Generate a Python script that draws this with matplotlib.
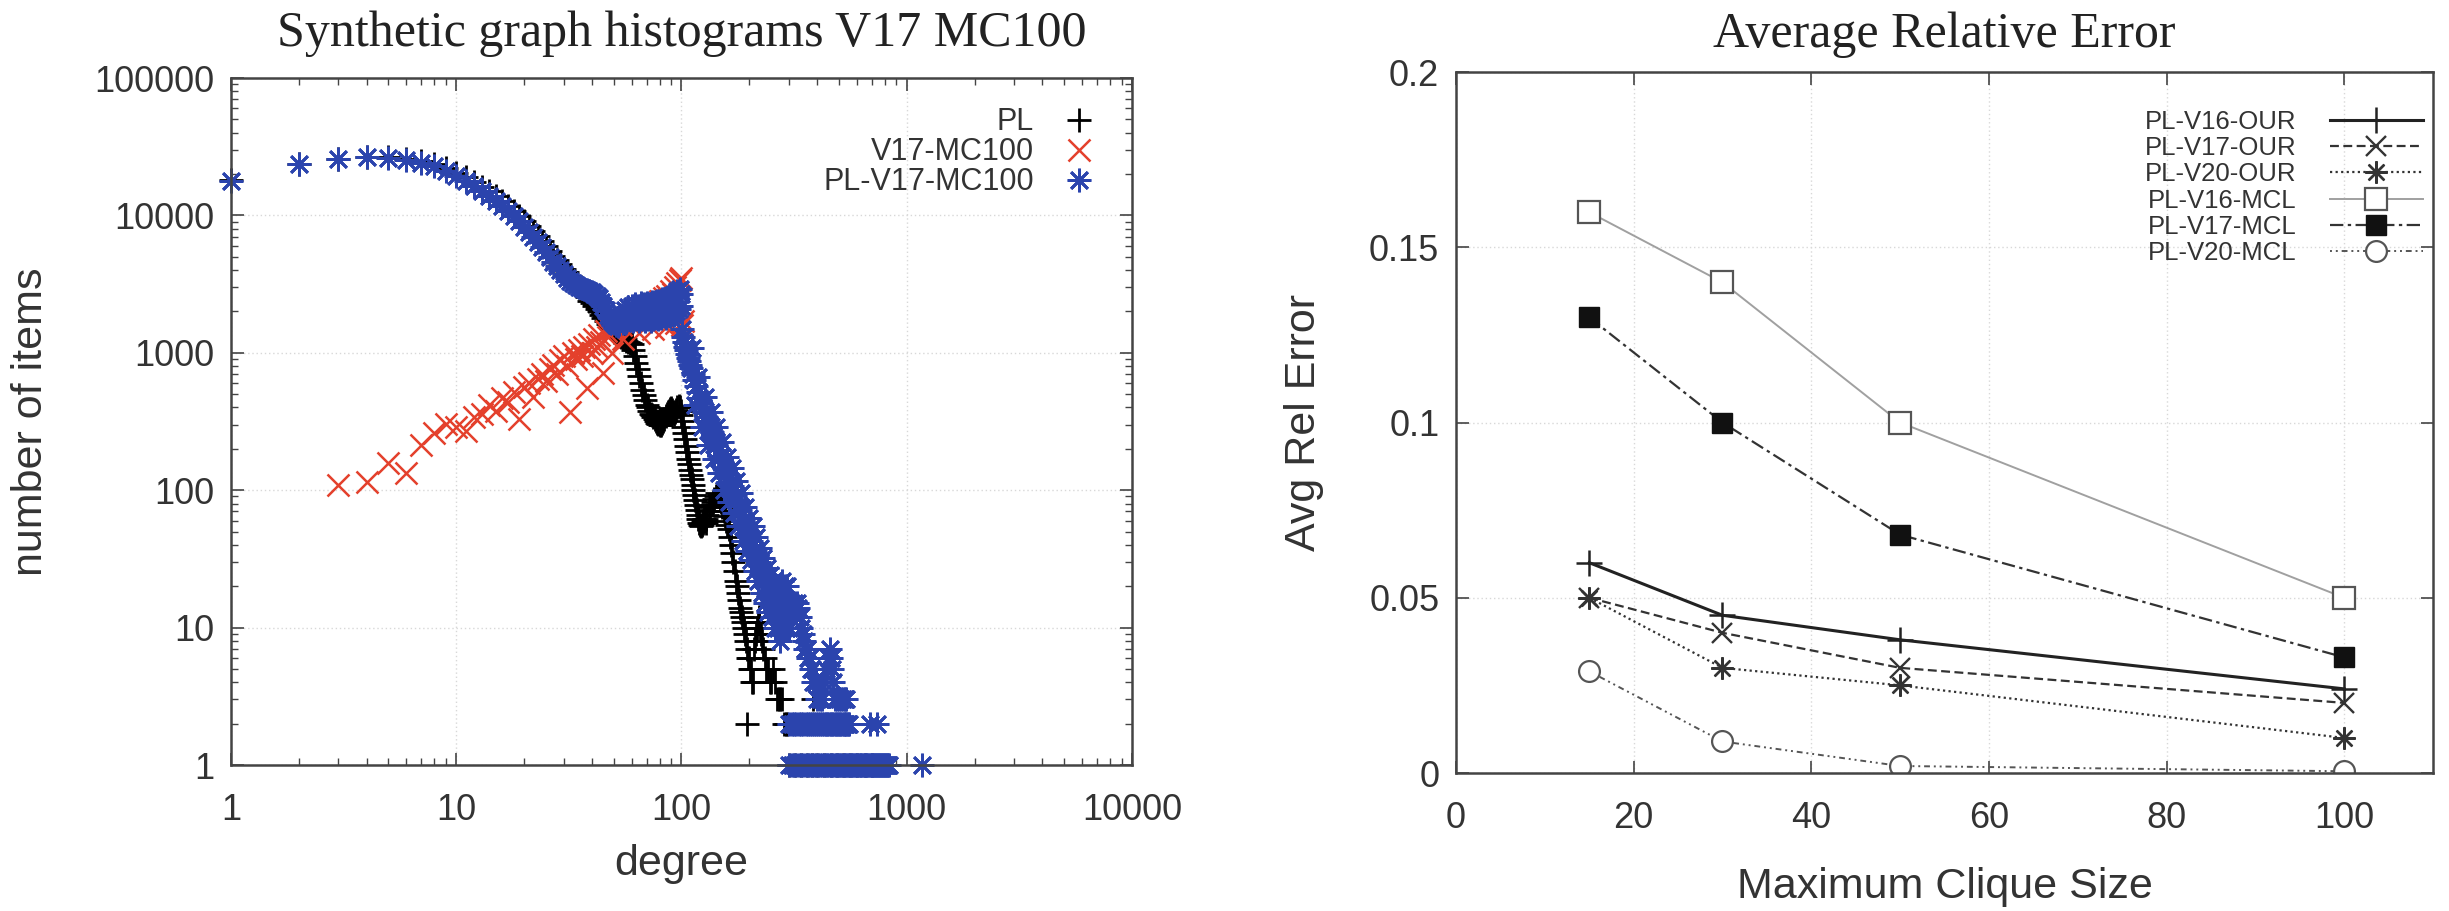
import matplotlib
matplotlib.use("Agg")
import matplotlib.pyplot as plt
from matplotlib import ticker

plt.rcParams['font.family'] = ['Liberation Sans', 'DejaVu Sans']
TXT = '#333333'
EDGE = '#444444'

# ---------------- left panel: degree histograms ----------------
# PL (black +)
pl_deg = list(range(1, 131)) + list(range(132, 231, 2)) + \
    [234, 238, 242, 246, 250, 255, 260, 265, 270, 275, 280, 285, 290, 295, 195, 385]
pl_cnt = [18000, 23500, 25800, 26800, 26500, 25800, 24800, 23800, 22300, 20500,
          19000, 17600, 16200, 15000, 13800, 12700, 11700, 10800, 9900, 9100,
          8400, 7700, 7100, 6500, 6000, 5500, 5100, 4700, 4400, 4100,
          3850, 3600, 3400, 3200, 3000, 2850, 2700, 2550, 2400, 2300,
          2200, 2100, 2000, 1900, 1800, 1700, 1620, 1550, 1480, 1420,
          1380, 1350, 1320, 1300, 1280, 1250, 1220, 1200, 1180, 1150,
          1050, 950, 850, 760, 680, 600, 540, 490, 450, 420,
          400, 380, 360, 350, 340, 330, 320, 310, 305, 300,
          300, 310, 320, 330, 345, 360, 370, 380, 390, 395,
          385, 370, 360, 370, 385, 400, 410, 400, 380, 350,
          320, 290, 260, 235, 210, 190, 170, 155, 140, 130,
          120, 110, 100, 92, 85, 78, 72, 66, 62, 58,
          56, 55, 56, 58, 60, 62, 60, 58, 62, 66,
          70, 75, 78, 82, 86, 90, 95, 92, 88, 82,
          76, 70, 65, 60, 56, 52, 46, 40, 35, 30,
          26, 22, 20, 18, 16, 14, 13, 12, 11, 10,
          9, 8, 7, 6, 6, 5, 5, 4, 4, 7,
          8, 9, 10, 11, 12, 11, 10, 9, 8, 7,
          6, 5, 5, 4, 4, 5, 4, 3, 3, 3, 3, 2, 2, 2, 2, 3]
pl_one_deg = [300, 320, 340, 360, 380, 400, 430, 460, 490, 520, 560, 600, 650, 700]

# V17-MC100 (red x)
v17_deg = list(range(3, 51)) + list(range(52, 101, 2)) + [101, 102, 55, 65, 75, 85, 95]
v17_cnt = [110, 115, 158, 134, 215, 260, 305, 290, 270, 340,
           360, 420, 380, 470, 440, 520, 330, 560, 600, 480,
           650, 700, 620, 760, 820, 700, 880, 950, 800, 370,
           1000, 900, 1050, 950, 1100, 550, 1150, 1000, 1250, 1100,
           1350, 1200, 710, 1450, 1300, 1500, 1000, 1550,
           1650, 1600, 1750, 1700, 1850, 1800, 1950, 1900, 2050, 2100,
           1900, 2200, 2150, 2300, 2400, 2200, 2500, 2600, 2450, 2800,
           2700, 3000, 3200, 3400, 3500,
           1600, 1700, 1250, 1400, 1500, 1550, 1650]

# PL-V17-MC100 (blue asterisk)
mix_deg = list(range(1, 111)) + list(range(112, 141, 2)) + list(range(143, 201, 3)) + \
    list(range(204, 241, 4)) + list(range(245, 401, 5)) + \
    [410, 420, 430, 440, 450, 455, 460, 465, 470, 480, 490, 500, 510, 520, 530, 540]
mix_cnt = [17700, 23500, 25800, 26500, 26200, 25200, 24000, 22800, 21200, 19300,
           17800, 16400, 15000, 13800, 12700, 11700, 10800, 9900, 9100, 8300,
           7600, 7000, 6400, 5900, 5400, 5000, 4600, 4300, 4000, 3750,
           3500, 3350, 3200, 3100, 3000, 2950, 2900, 2850, 2800, 2750,
           2700, 2600, 2500, 2350, 2200, 2050, 1900, 1800, 1700, 1650,
           1600, 1580, 1620, 1900, 1650, 2050, 1700, 2150, 1750, 2200,
           1700, 2250, 1750, 2200, 1700, 2300, 1750, 2250, 1700, 2300,
           1750, 2250, 1700, 2350, 1750, 2300, 1800, 2400, 1750, 2350,
           1800, 2450, 1850, 2400, 1800, 2500, 1900, 2550, 1850, 2600,
           1950, 2650, 1900, 2700, 2000, 2800, 2100, 2900, 2200, 2700,
           1500, 1300, 1200, 1100, 1050, 980, 920, 870, 820, 780,
           700, 630, 570, 520, 470, 430, 400, 370, 340, 320, 300, 280, 265, 250, 235,
           215, 195, 175, 160, 145, 132, 122, 115, 108, 100,
           92, 85, 78, 72, 66, 60, 56, 52, 49, 46,
           43, 40, 36, 33, 30, 28, 26, 24, 22, 20,
           18, 17, 16, 15, 14, 13, 12, 16, 15, 15, 14, 15, 15, 14, 15, 14, 15, 14,
           12, 10, 9, 8, 7, 7, 6, 6, 5, 5, 4, 4, 4, 3,
           3, 3, 4, 5, 6, 7, 6, 5, 4, 3, 3, 3, 3, 3, 3, 3]
# scatter of the blue tail around its trend (odd degrees)
mix_spread_deg = list(range(111, 300, 4))
mix_spread_cnt = [1080, 420, 670, 290, 480, 215, 370, 170, 290, 133,
                  225, 100, 175, 82, 146, 68, 117, 55, 95, 43,
                  76, 36, 63, 31, 55, 26, 46, 22, 38, 18,
                  32, 15, 27, 13, 24, 12, 22, 10, 19, 10,
                  18, 8, 22, 10, 20, 10, 20, 10]
mix_two_deg = list(range(300, 561, 8)) + [690, 735]
mix_one_deg = list(range(300, 841, 8)) + [1170]

# ---------------- right panel: average relative error ----------------
clique = [15, 30, 50, 100]
v16_our = [0.060, 0.045, 0.038, 0.024]
v17_our = [0.050, 0.040, 0.030, 0.020]
v20_our = [0.050, 0.030, 0.025, 0.010]
v16_mcl = [0.160, 0.140, 0.100, 0.050]
v17_mcl = [0.130, 0.100, 0.068, 0.033]
v20_mcl = [0.029, 0.009, 0.002, 0.0005]

fig = plt.figure(figsize=(24.49, 9.11), dpi=100)
ax1 = fig.add_axes([0.09432, 0.16026, 0.3679, 0.7541])
ax2 = fig.add_axes([0.59453, 0.15148, 0.39894, 0.76948])

asterisk = (8, 2, 0)
blue = '#2b44ad'
red = '#e4402c'

ms = 17
mw = 2.0
ax1.plot(pl_deg, pl_cnt, '+', color='black', ms=ms, mew=mw, clip_on=False, label='PL')
ax1.plot(pl_one_deg, [1] * len(pl_one_deg), '+', color='black', ms=ms, mew=mw, clip_on=False)
ax1.plot(v17_deg, v17_cnt, 'x', color=red, ms=ms - 1, mew=1.8, clip_on=False, label='V17-MC100')
ax1.plot(mix_deg, mix_cnt, marker=asterisk, ls='none', color=blue, ms=ms, mew=mw,
         clip_on=False, label='PL-V17-MC100')
ax1.plot(mix_spread_deg, mix_spread_cnt, marker=asterisk, ls='none', color=blue,
         ms=ms, mew=mw, clip_on=False)
ax1.plot(mix_two_deg, [2] * len(mix_two_deg), marker=asterisk, ls='none', color=blue,
         ms=ms, mew=mw, clip_on=False)
ax1.plot(mix_one_deg, [1] * len(mix_one_deg), marker=asterisk, ls='none', color=blue,
         ms=ms, mew=mw, clip_on=False)

ax1.set_xscale('log')
ax1.set_yscale('log')
ax1.set_xlim(1, 10000)
ax1.set_ylim(1, 100000)
fmt = ticker.FuncFormatter(lambda v, p: '%d' % round(v))
ax1.xaxis.set_major_formatter(fmt)
ax1.yaxis.set_major_formatter(fmt)
ax1.xaxis.set_major_locator(ticker.LogLocator(base=10, numticks=10))
ax1.yaxis.set_major_locator(ticker.LogLocator(base=10, numticks=10))
ax1.xaxis.set_minor_locator(ticker.LogLocator(base=10, subs=range(2, 10), numticks=20))
ax1.yaxis.set_minor_locator(ticker.LogLocator(base=10, subs=range(2, 10), numticks=20))
ax1.xaxis.set_minor_formatter(ticker.NullFormatter())
ax1.yaxis.set_minor_formatter(ticker.NullFormatter())

ax2.plot(clique, v16_our, '-', marker='+', color='#222222', lw=2.2, ms=19, mew=1.8,
         label='PL-V16-OUR')
ax2.plot(clique, v17_our, ls=(0, (4, 2)), marker='x', color='#333333', lw=1.6, ms=15,
         mew=1.7, label='PL-V17-OUR')
ax2.plot(clique, v20_our, ls=(0, (1, 1.5)), marker=asterisk, color='#333333', lw=1.6,
         ms=16, mew=1.7, label='PL-V20-OUR')
ax2.plot(clique, v16_mcl, '-', marker='s', color='#a0a0a0', mfc='white', mec='#555555',
         lw=1.4, ms=16, mew=1.6, label='PL-V16-MCL')
ax2.plot(clique, v17_mcl, ls=(0, (6, 2, 1.5, 2)), marker='s', color='#333333',
         mfc='#111111', mec='#111111', lw=1.6, ms=15, label='PL-V17-MCL')
ax2.plot(clique, v20_mcl, ls=(0, (1, 2, 1, 2, 3, 2)), marker='o', color='#555555',
         mfc='white', mec='#555555', lw=1.4, ms=15, mew=1.6, label='PL-V20-MCL')

ax2.set_xlim(0, 110)
ax2.set_ylim(0, 0.2)
ax2.xaxis.set_major_locator(ticker.FixedLocator([0, 20, 40, 60, 80, 100]))
ax2.yaxis.set_major_locator(ticker.FixedLocator([0, 0.05, 0.1, 0.15, 0.2]))
ax2.xaxis.set_major_formatter(ticker.FuncFormatter(lambda v, p: '%g' % v))
ax2.yaxis.set_major_formatter(ticker.FuncFormatter(lambda v, p: '%g' % v))

for ax in (ax1, ax2):
    for s in ax.spines.values():
        s.set_color(EDGE)
        s.set_linewidth(1.8)
    ax.grid(True, which='major', color='#d8d8d8', ls=(0, (1, 2)), lw=1.0)
    ax.set_axisbelow(True)
    ax.tick_params(which='both', direction='in', top=True, right=True, colors=EDGE,
                   labelcolor=TXT, labelsize=26)
    ax.tick_params(which='major', length=9, width=1.2)
    ax.tick_params(which='minor', length=5, width=1.0)
    ax.tick_params(axis='x', pad=20)
    ax.tick_params(axis='y', pad=12)

ax1.set_title('Synthetic graph histograms V17 MC100', family='Liberation Serif',
              fontsize=36, color='#222222', y=1.064, pad=0, va='center')
ax2.set_title('Average Relative Error', family='Liberation Serif',
              fontsize=36, color='#222222', y=1.053, pad=0, va='center')

ax1.set_xlabel('degree', fontsize=31, color=TXT, va='center')
ax1.set_ylabel('number of items', fontsize=31, color=TXT, va='center')
ax1.xaxis.set_label_coords(0.5, -0.1435)
ax1.yaxis.set_label_coords(-0.222, 0.5)
ax2.set_xlabel('Maximum Clique Size', fontsize=31, color=TXT, va='center')
ax2.set_ylabel('Avg Rel Error', fontsize=31, color=TXT, va='center')
ax2.xaxis.set_label_coords(0.5, -0.163)
ax2.yaxis.set_label_coords(-0.156, 0.5)

leg1 = ax1.legend(loc='upper right', frameon=False, markerfirst=False, fontsize=22,
                  handlelength=1.35, handletextpad=0.8, labelspacing=0.0,
                  borderaxespad=0.0, bbox_to_anchor=(0.978, 0.975))
for t in leg1.get_texts():
    t.set_color(TXT)

leg2 = ax2.legend(loc='upper right', frameon=False, markerfirst=False, fontsize=18.5,
                  handlelength=3.6, handletextpad=1.3, labelspacing=0.09,
                  borderaxespad=0.0, bbox_to_anchor=(1.0, 0.961))
for t in leg2.get_texts():
    t.set_color(TXT)

fig.savefig('out.png', dpi=100)
